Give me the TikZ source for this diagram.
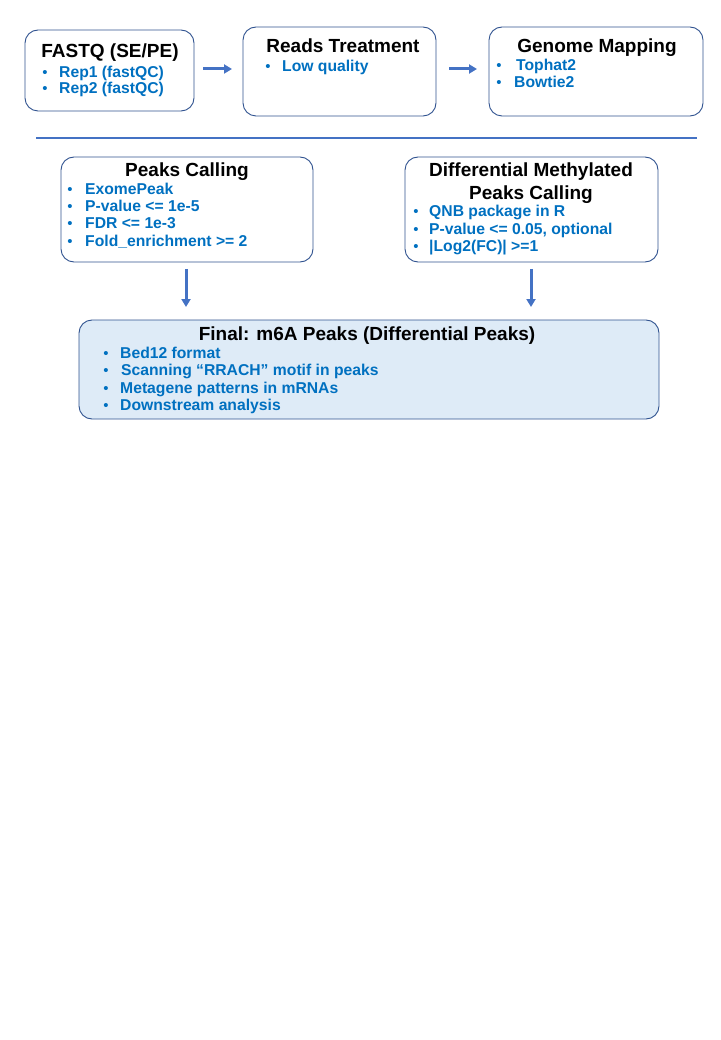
\documentclass[tikz,border=0pt]{standalone}
\usepackage{fontspec}
\setmainfont{Liberation Sans}
\usetikzlibrary{arrows.meta}
\definecolor{bordc}{HTML}{2F528F}
\definecolor{arrc}{HTML}{4472C4}
\definecolor{txtc}{HTML}{0070C0}
\definecolor{fillc}{HTML}{DEEBF7}
\tikzset{
  box/.style={draw=bordc, line width=0.9pt, rounded corners=13pt, inner sep=0pt, outer sep=0pt},
  ttl/.style={anchor=base, inner sep=0pt, font=\fontsize{19}{21}\selectfont\bfseries, text=black},
  itm/.style={anchor=base west, inner sep=0pt, font=\fontsize{15.7}{17}\selectfont\bfseries, text=txtc},
  bul/.style={anchor=base, inner sep=0pt, font=\fontsize{15}{16}\selectfont, text=txtc},
  flow/.style={draw=arrc, line width=3pt, -{Triangle[width=9pt,length=8pt]}},
}
\begin{document}
\begin{tikzpicture}[x=1pt,y=-1pt]
\useasboundingbox (0,0) rectangle (720,1040);
% boxes
\node[box, minimum width=169pt, minimum height=81pt] (fastq) at (109.5,70.5) {};
\node[box, minimum width=193pt, minimum height=89pt] (reads) at (339.5,71.5) {};
\node[box, minimum width=214pt, minimum height=89pt] (genome) at (596,71.5) {};
\node[box, minimum width=252pt, minimum height=105pt] (peaks) at (187,209.5) {};
\node[box, minimum width=253pt, minimum height=105pt] (diff) at (531.5,209.5) {};
\node[box, fill=fillc, minimum width=580pt, minimum height=99pt] (final) at (369,369.5) {};
% titles
\node[ttl] (t1) at (110,57.5) {FASTQ (SE/PE)};
\node[ttl] (t2) at (343,52.5) {Reads Treatment};
\node[ttl] (t3) at (597,52.5) {Genome Mapping};
\node[ttl] (t4) at (187,176.5) {Peaks Calling};
\node[ttl] (t5) at (531,176.5) {Differential Methylated};
\node[ttl] (t6) at (531,199.5) {Peaks Calling};
\node[ttl] (t7) at (367,340.5) {Final: m6A Peaks (Differential Peaks)};
% FASTQ items
\node[bul] (b11) at (45,77.5) {•};
\node[itm] (i11) at (59,77.5) {Rep1 (fastQC)};
\node[bul] (b12) at (45,93.5) {•};
\node[itm] (i12) at (59,93.5) {Rep2 (fastQC)};
% Reads items
\node[bul] (b21) at (268,71.5) {•};
\node[itm] (i21) at (282,71.5) {Low quality};
% Genome items
\node[bul] (b31) at (499,70.5) {•};
\node[itm] (i31) at (516,70.5) {Tophat2};
\node[bul] (b32) at (499,87.5) {•};
\node[itm] (i32) at (514,87.5) {Bowtie2};
% Peaks items
\node[bul] (b41) at (70,194.5) {•};
\node[itm] (i41) at (85,194.5) {ExomePeak};
\node[bul] (b42) at (70,211.5) {•};
\node[itm] (i42) at (85,211.5) {P-value <= 1e-5};
\node[bul] (b43) at (70,228.5) {•};
\node[itm] (i43) at (85,228.5) {FDR <= 1e-3};
\node[bul] (b44) at (70,246.5) {•};
\node[itm] (i44) at (85,246.5) {Fold\_enrichment >= 2};
% Diff items
\node[bul] (b51) at (416,216.5) {•};
\node[itm] (i51) at (429,216.5) {QNB package in R};
\node[bul] (b52) at (416,234.5) {•};
\node[itm] (i52) at (429,234.5) {P-value <= 0.05, optional};
\node[bul] (b53) at (416,251.5) {•};
\node[itm] (i53) at (429,251.5) {|Log2(FC)| >=1};
% Final items
\node[bul] (b61) at (106,358.5) {•};
\node[itm] (i61) at (120,358.5) {Bed12 format};
\node[bul] (b62) at (106,375.5) {•};
\node[itm] (i62) at (121,375.5) {Scanning “RRACH” motif in peaks};
\node[bul] (b63) at (106,393.5) {•};
\node[itm] (i63) at (120,393.5) {Metagene patterns in mRNAs};
\node[bul] (b64) at (106,410.5) {•};
\node[itm] (i64) at (120,410.5) {Downstream analysis};
% separator
\coordinate (sepL) at (36,138);
\coordinate (sepR) at (697,138);
\draw[arrc, line width=1.2pt] (sepL) -- (sepR);
% arrows
\draw[flow, shorten <=9pt, shorten >=11pt] (fastq.east |- 0,69) -- (reads.west |- 0,69);
\draw[flow, shorten <=13pt, shorten >=12pt] (reads.east |- 0,69) -- (genome.west |- 0,69);
\draw[flow, shorten <=7pt, shorten >=13pt] (186,262) -- (186,320);
\draw[flow, shorten <=7pt, shorten >=13pt] (531,262) -- (531,320);
\end{tikzpicture}
\end{document}
